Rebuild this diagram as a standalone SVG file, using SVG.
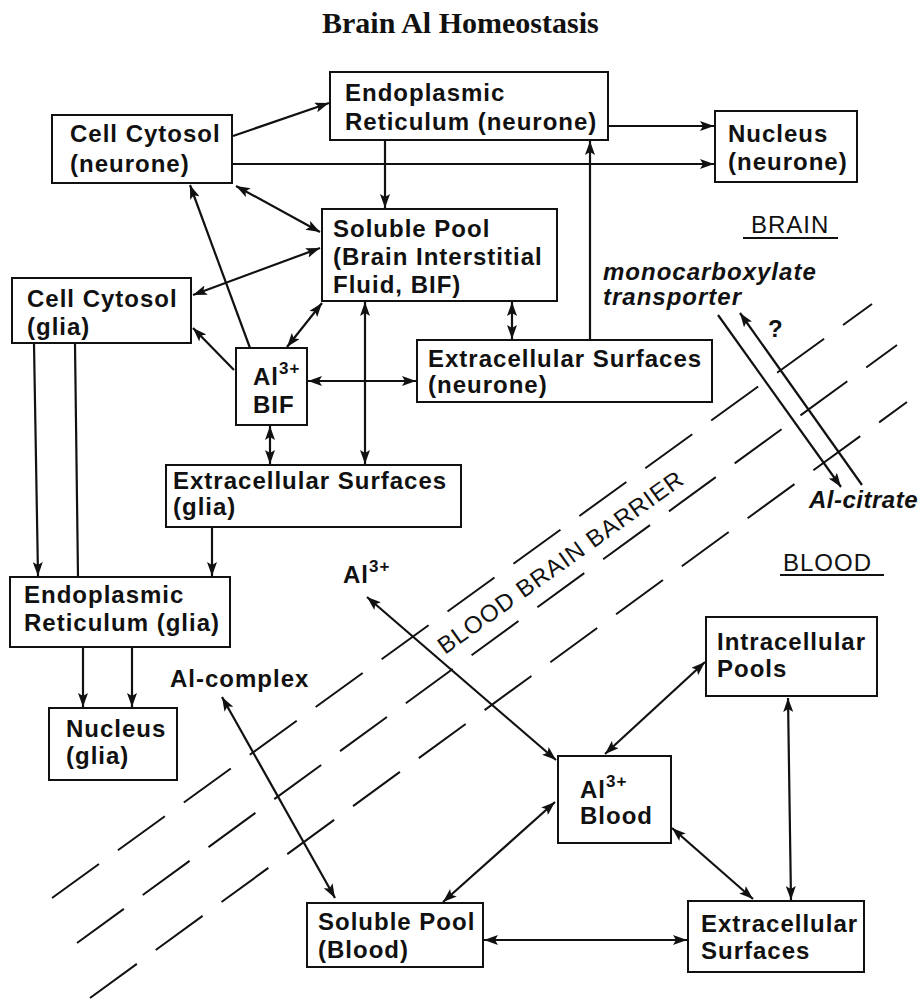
<svg xmlns="http://www.w3.org/2000/svg" width="921" height="1000" viewBox="0 0 921 1000">
<style>
.bx{fill:none;stroke:#111;stroke-width:2}
.t{font-family:"Liberation Sans",Arial,sans-serif;font-size:24px;font-weight:bold;letter-spacing:1px;fill:#111}
.r{font-weight:normal}
.i{font-style:italic}
.sup{font-size:17px}
.c line{stroke:#111;stroke-width:2.2}
.d{fill:none;stroke:#111;stroke-width:2;stroke-dasharray:58 23.4}
</style>
<defs>
<marker id="ah" viewBox="0 0 14 10" refX="14" refY="5" markerWidth="14" markerHeight="10" markerUnits="userSpaceOnUse" orient="auto-start-reverse">
<path d="M0,0 L14,5 L0,10 L3,5 z" fill="#111"/>
</marker>
</defs>
<rect width="921" height="1000" fill="#fff"/>
<text x="322" y="33" font-family="'Liberation Serif','Times New Roman',serif" font-size="30" font-weight="bold" fill="#111">Brain Al Homeostasis</text>

<g id="barrier">
<path class="d" d="M52,898 L872,304"/>
<path class="d" d="M77,943 L897,345"/>
<path class="d" d="M90,998 L907,402"/>
<text class="t r" transform="translate(445,655) rotate(-35.6)">BLOOD BRAIN BARRIER</text>
</g>

<g id="cytosol-neurone"><rect class="bx" x="52" y="115" width="180" height="68"/><text class="t" x="70" y="142">Cell Cytosol</text><text class="t" x="70" y="172">(neurone)</text></g>
<g id="er-neurone"><rect class="bx" x="330" y="72" width="278" height="68"/><text class="t" x="345" y="101">Endoplasmic</text><text class="t" x="345" y="130">Reticulum (neurone)</text></g>
<g id="nucleus-neurone"><rect class="bx" x="715" y="111" width="142" height="71"/><text class="t" x="728" y="142">Nucleus</text><text class="t" x="728" y="170">(neurone)</text></g>
<g id="soluble-bif"><rect class="bx" x="322" y="209" width="235" height="92"/><text class="t" x="333" y="237">Soluble Pool</text><text class="t" x="333" y="265">(Brain Interstitial</text><text class="t" x="333" y="293">Fluid, BIF)</text></g>
<g id="cytosol-glia"><rect class="bx" x="12" y="278" width="179" height="65"/><text class="t" x="27" y="307">Cell Cytosol</text><text class="t" x="27" y="335">(glia)</text></g>
<g id="al-bif"><rect class="bx" x="236" y="348" width="71" height="77"/><text class="t" x="253" y="385">Al<tspan class="sup" dy="-11">3+</tspan></text><text class="t" x="253" y="413">BIF</text></g>
<g id="ext-neurone"><rect class="bx" x="417" y="340" width="295" height="62"/><text class="t" x="428" y="367">Extracellular Surfaces</text><text class="t" x="428" y="393">(neurone)</text></g>
<g id="ext-glia"><rect class="bx" x="166" y="465" width="295" height="62"/><text class="t" x="173" y="489">Extracellular Surfaces</text><text class="t" x="173" y="515">(glia)</text></g>
<g id="er-glia"><rect class="bx" x="10" y="577" width="220" height="70"/><text class="t" x="24" y="603">Endoplasmic</text><text class="t" x="24" y="631">Reticulum (glia)</text></g>
<g id="nucleus-glia"><rect class="bx" x="49" y="708" width="128" height="72"/><text class="t" x="66" y="737">Nucleus</text><text class="t" x="66" y="764">(glia)</text></g>
<g id="intracellular"><rect class="bx" x="706" y="617" width="171" height="79"/><text class="t" x="717" y="650">Intracellular</text><text class="t" x="717" y="677">Pools</text></g>
<g id="al-blood"><rect class="bx" x="558" y="756" width="113" height="87"/><text class="t" x="580" y="798">Al<tspan class="sup" dy="-11">3+</tspan></text><text class="t" x="580" y="824">Blood</text></g>
<g id="ext-blood"><rect class="bx" x="688" y="901" width="176" height="71"/><text class="t" x="701" y="932">Extracellular</text><text class="t" x="701" y="959">Surfaces</text></g>
<g id="soluble-blood"><rect class="bx" x="307" y="903" width="176" height="64"/><text class="t" x="318" y="930">Soluble Pool</text><text class="t" x="318" y="958">(Blood)</text></g>

<g id="labels">
<text class="t r" x="751" y="233">BRAIN</text>
<line x1="743" y1="238" x2="838" y2="238" stroke="#111" stroke-width="2"/>
<text class="t i" x="603" y="280">monocarboxylate</text>
<text class="t i" x="603" y="305">transporter</text>
<text class="t" x="768" y="337">?</text>
<text class="t i" x="809" y="508" style="letter-spacing:0.5px">Al-citrate</text>
<text class="t r" x="783" y="571">BLOOD</text>
<line x1="780" y1="575" x2="884" y2="575" stroke="#111" stroke-width="2"/>
<text class="t" x="343" y="583">Al<tspan class="sup" dy="-11">3+</tspan></text>
<text class="t" x="170" y="687">Al-complex</text>
</g>

<g id="connectors" class="c">
<line x1="233" y1="136" x2="329" y2="103" marker-end="url(#ah)"/>
<line x1="233" y1="164" x2="714" y2="164" marker-end="url(#ah)"/>
<line x1="609" y1="126" x2="714" y2="126" marker-end="url(#ah)"/>
<line x1="385" y1="141" x2="385" y2="208" marker-end="url(#ah)"/>
<line x1="236" y1="186" x2="320" y2="232" marker-start="url(#ah)" marker-end="url(#ah)"/>
<line x1="193" y1="295" x2="320" y2="248" marker-start="url(#ah)" marker-end="url(#ah)"/>
<line x1="250" y1="348" x2="190" y2="185" marker-end="url(#ah)"/>
<line x1="234" y1="370" x2="193" y2="328" marker-end="url(#ah)"/>
<line x1="287" y1="347" x2="322" y2="303" marker-start="url(#ah)" marker-end="url(#ah)"/>
<line x1="308" y1="381" x2="416" y2="381" marker-start="url(#ah)" marker-end="url(#ah)"/>
<line x1="365" y1="302" x2="365" y2="464" marker-start="url(#ah)" marker-end="url(#ah)"/>
<line x1="270" y1="426" x2="270" y2="464" marker-start="url(#ah)" marker-end="url(#ah)"/>
<line x1="512" y1="302" x2="512" y2="339" marker-start="url(#ah)" marker-end="url(#ah)"/>
<line x1="590" y1="339" x2="590" y2="141" marker-end="url(#ah)"/>
<line x1="34" y1="344" x2="38" y2="576" marker-end="url(#ah)"/>
<line x1="75" y1="344" x2="78" y2="577"/>
<line x1="212" y1="528" x2="212" y2="576" marker-end="url(#ah)"/>
<line x1="83" y1="648" x2="83" y2="707" marker-end="url(#ah)"/>
<line x1="132" y1="648" x2="132" y2="707" marker-end="url(#ah)"/>
<line x1="718" y1="315" x2="841" y2="487" marker-end="url(#ah)"/>
<line x1="862" y1="485" x2="740" y2="313" marker-end="url(#ah)"/>
<line x1="556" y1="760" x2="367" y2="597" marker-start="url(#ah)" marker-end="url(#ah)"/>
<line x1="222" y1="697" x2="335" y2="898" marker-start="url(#ah)" marker-end="url(#ah)"/>
<line x1="443" y1="902" x2="555" y2="802" marker-start="url(#ah)" marker-end="url(#ah)"/>
<line x1="605" y1="754" x2="705" y2="662" marker-start="url(#ah)" marker-end="url(#ah)"/>
<line x1="672" y1="828" x2="753" y2="899" marker-start="url(#ah)" marker-end="url(#ah)"/>
<line x1="788" y1="698" x2="791" y2="900" marker-start="url(#ah)" marker-end="url(#ah)"/>
<line x1="484" y1="940" x2="687" y2="940" marker-start="url(#ah)" marker-end="url(#ah)"/>
</g>
</svg>
